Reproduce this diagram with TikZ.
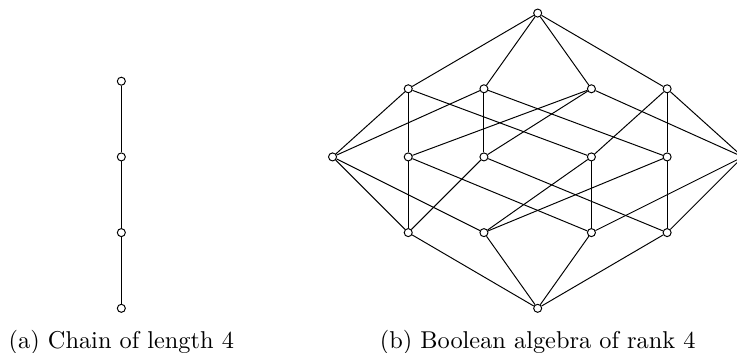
\documentclass[tikz,border=0pt]{standalone}
\usepackage{tikz}

\tikzset{
  elem/.style={draw, circle, fill=white, inner sep=0pt, minimum size=3.3pt},
  subcap/.style={anchor=base}
}

\begin{document}
\begin{tikzpicture}[x=1.093cm, y=1.093cm]
        \useasboundingbox (-7.103,-0.59) rectangle (2.633,4.073);

        % chain
        \foreach \i in {0,1,2,3}
            \node[elem] (k\i) at (-5.5,\i) {};
        \draw (k0) -- (k1) -- (k2) -- (k3);
        \node[subcap] (capa) at (-5.5,-0.528) {(a) Chain of length 4};

        % boolean algebra
        \node[elem] (bot) at (0,0) {};
        \node[elem] (a1) at (-1.71,1) {};
        \node[elem] (a2) at (-0.71,1) {};
        \node[elem] (a3) at (0.71,1) {};
        \node[elem] (a4) at (1.71,1) {};

        \node[elem] (b12) at (-2.71,2) {};
        \node[elem] (b13) at (-1.71,2) {};
        \node[elem] (b14) at (-0.71,2) {};
        \node[elem] (b23) at (0.71,2) {};
        \node[elem] (b24) at (1.71,2) {};
        \node[elem] (b34) at (2.71,2) {};

        \node[elem] (c123) at (-1.71,2.9) {};
        \node[elem] (c124) at (-0.71,2.9) {};
        \node[elem] (c134) at (0.71,2.9) {};
        \node[elem] (c234) at (1.71,2.9) {};
        \node[elem] (top) at (0,3.9) {};

        \foreach \t in {a1,a2,a3,a4}
            \draw (bot) -- (\t);
        \foreach \s/\t in {a1/b12, a1/b13, a1/b14, a2/b12, a2/b23, a2/b24,
                           a3/b13, a3/b23, a3/b34, a4/b14, a4/b24, a4/b34}
            \draw (\s) -- (\t);
        \foreach \s/\t in {b12/c123, b13/c123, b23/c123, b12/c124, b14/c124, b24/c124,
                           b13/c134, b14/c134, b34/c134, b23/c234, b24/c234, b34/c234}
            \draw (\s) -- (\t);
        \foreach \s in {c123,c124,c134,c234}
            \draw (\s) -- (top);
        \node[subcap] (capb) at (0,-0.528) {(b) Boolean algebra of rank 4};
    \end{tikzpicture}
\end{document}
